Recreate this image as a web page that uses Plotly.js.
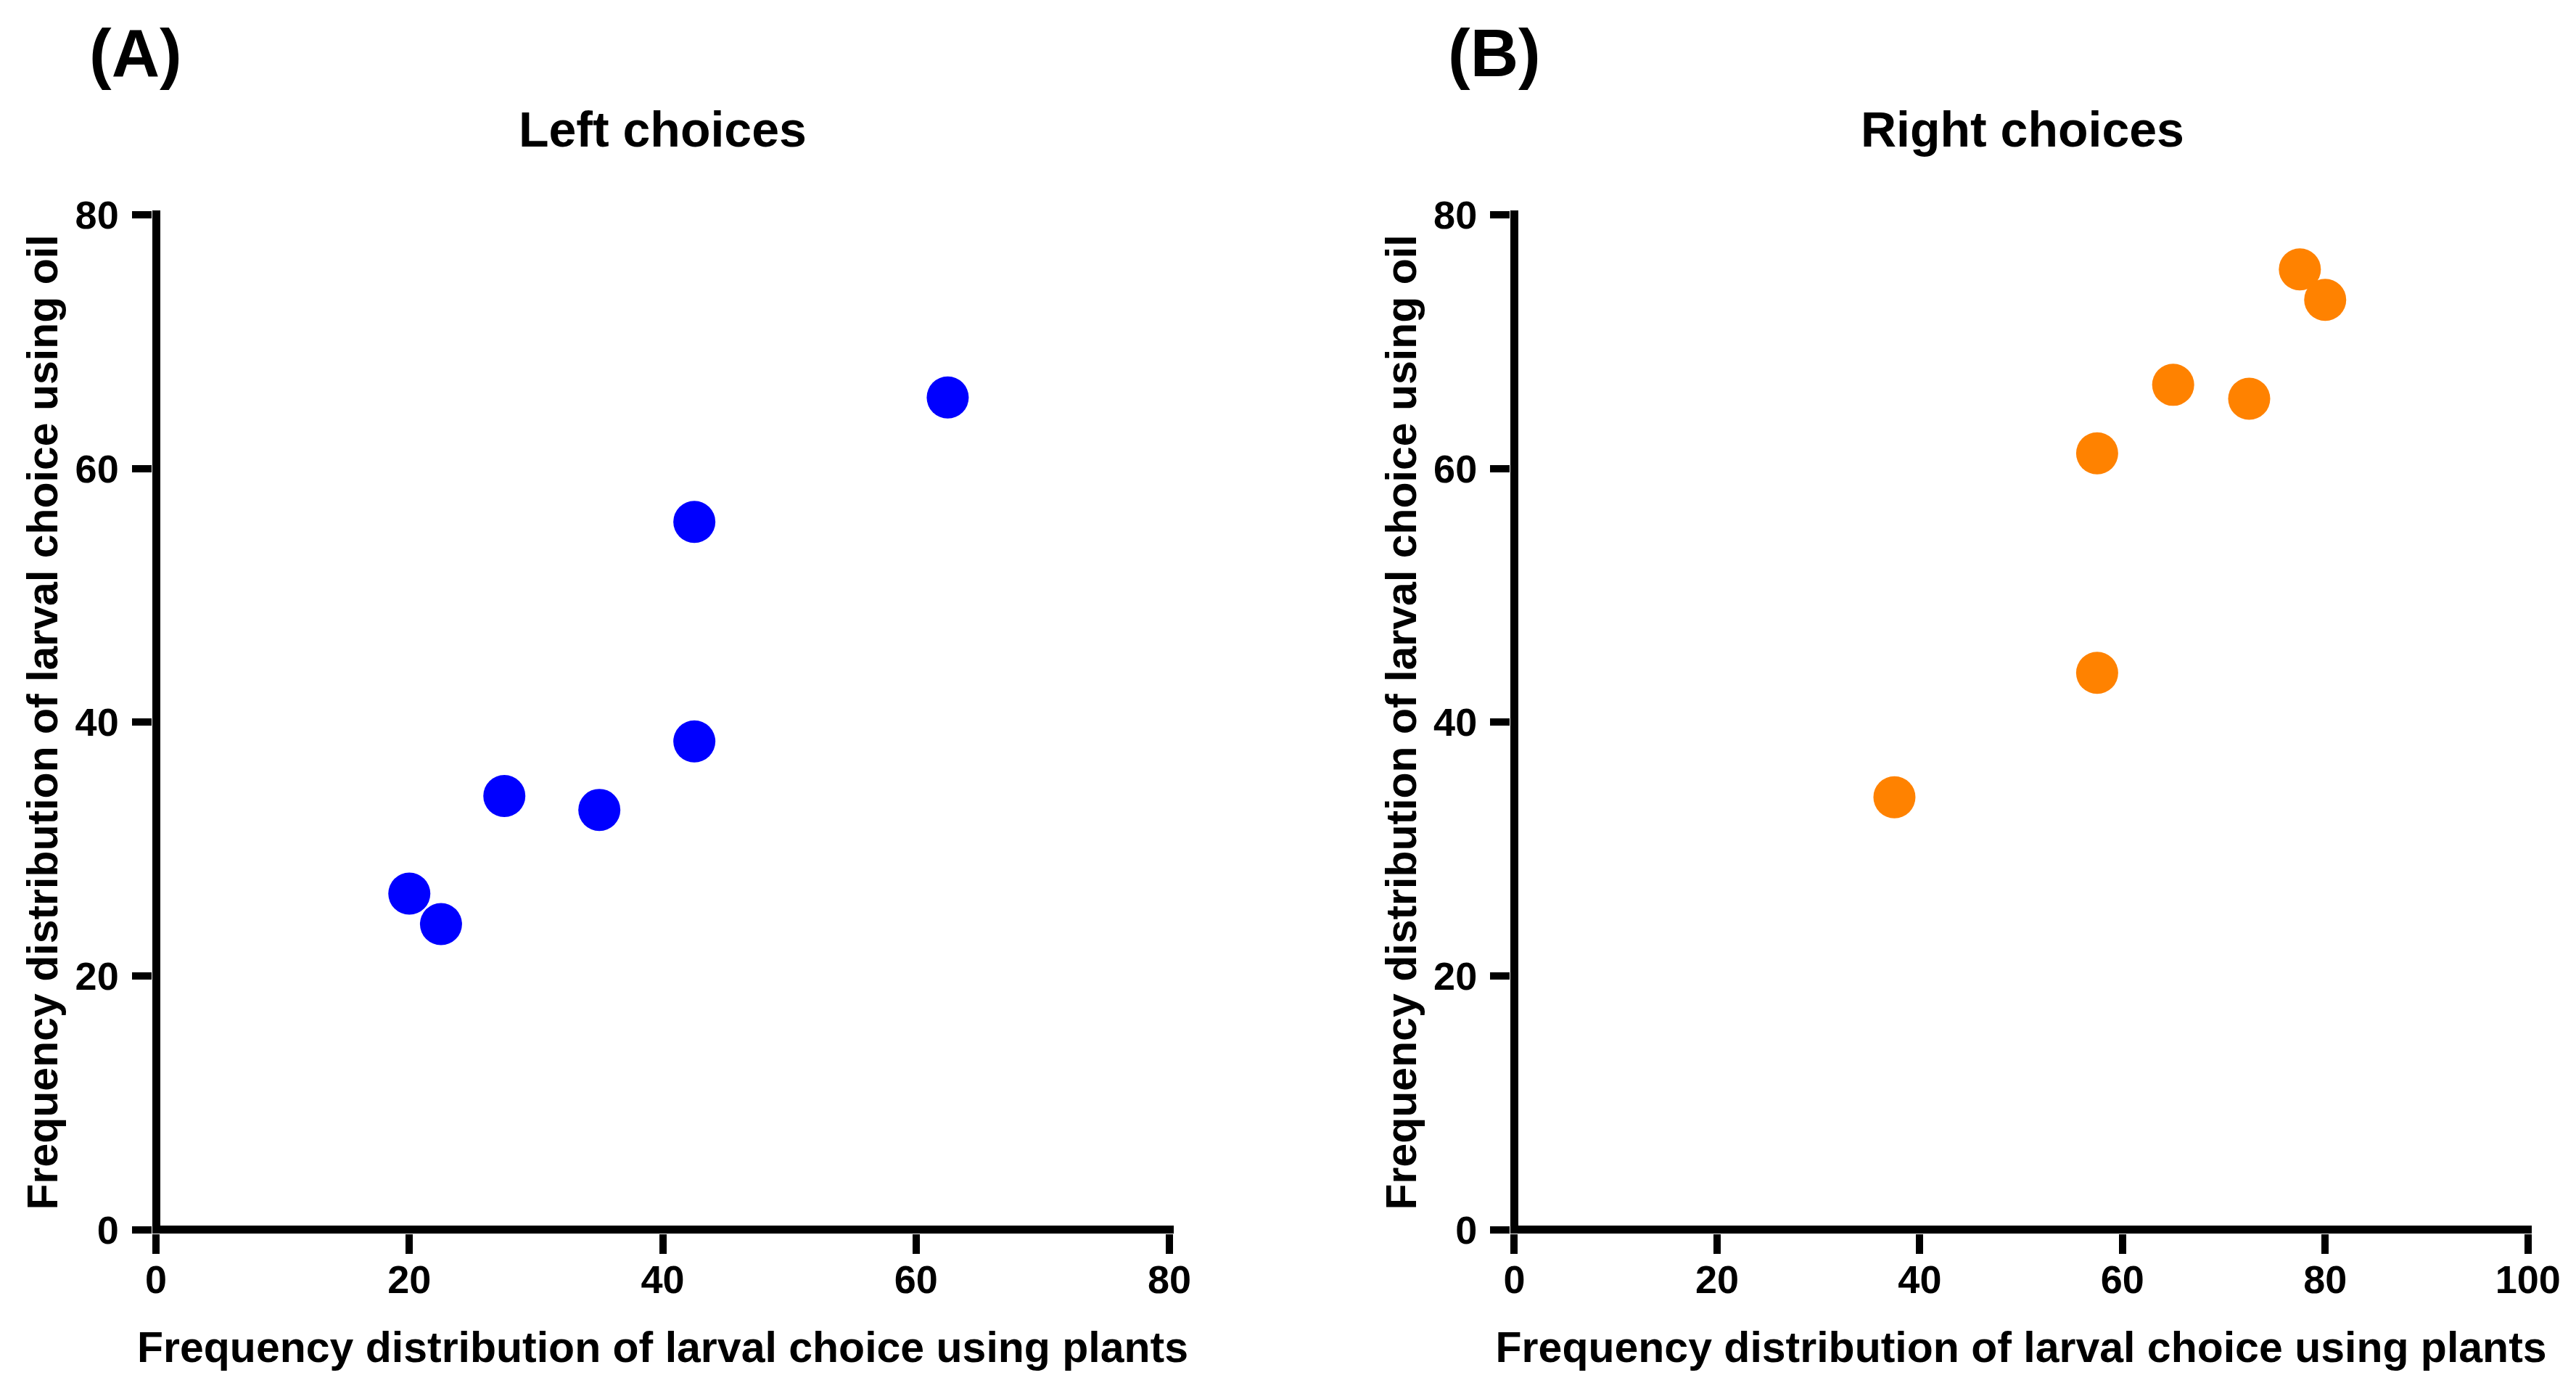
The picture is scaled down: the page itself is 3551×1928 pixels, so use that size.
<!DOCTYPE html>
<html>
<head>
<meta charset="utf-8">
<script src="https://cdn.plot.ly/plotly-3.0.1.min.js"></script>
<style>
html,body{margin:0;padding:0;background:#fff;}
#chart{width:3551px;height:1928px;}
</style>
</head>
<body>
<div id="chart"></div>
<script>
// Data
const leftPlants = [20, 22.5, 27.5, 35, 42.5, 42.5, 62.5];
const leftOil = [26.5, 24.1, 34.2, 33.1, 38.5, 55.8, 65.6];
const rightPlants = [37.5, 57.5, 57.5, 65, 72.5, 77.5, 80];
const rightOil = [34.1, 43.9, 61.2, 66.6, 65.5, 75.7, 73.3];
const panelLabels = ["(A)", "(B)"];
const panelTitles = ["Left choices", "Right choices"];
const xTitle = "Frequency distribution of larval choice using plants";
const yTitle = "Frequency distribution of larval choice using oil";
const xTicksLeft = [0, 20, 40, 60, 80];
const xTicksRight = [0, 20, 40, 60, 80, 100];
const yTicks = [0, 20, 40, 60, 80];

const FONT = "Liberation Sans, Arial, Helvetica, sans-serif";

const traces = [
  {x: leftPlants, y: leftOil, type: 'scatter', mode: 'markers', xaxis: 'x', yaxis: 'y',
   marker: {color: '#0000FF', size: 58, line: {width: 0}}, showlegend: false, cliponaxis: false},
  {x: rightPlants, y: rightOil, type: 'scatter', mode: 'markers', xaxis: 'x2', yaxis: 'y2',
   marker: {color: '#FF8200', size: 58, line: {width: 0}}, showlegend: false, cliponaxis: false}
];

// axis lines are drawn as zero lines so they sit centred on the 0 ticks
function axisBase() {
  return {
    showline: false,
    zeroline: true, zerolinecolor: '#000', zerolinewidth: 11,
    ticks: 'outside', ticklen: 27, tickwidth: 10, tickcolor: '#000',
    showgrid: false, fixedrange: true,
    tickfont: {family: FONT, size: 54, color: '#000', weight: 'bold'},
    tickmode: 'array'
  };
}

const yDom = [0.117998, 0.849326];
const titleFont = {family: FONT, size: 59, color: '#000', weight: 'bold'};

const layout = {
  width: 3551, height: 1928,
  margin: {l: 150, r: 0, t: 0, b: 0},
  paper_bgcolor: '#fff', plot_bgcolor: '#fff',
  showlegend: false,
  xaxis: Object.assign(axisBase(), {
    domain: [0.017495, 0.431491], range: [-0.315, 80.315], anchor: 'y',
    tickvals: xTicksLeft, ticktext: xTicksLeft.map(String), ticklabelstandoff: -11,
    title: {text: xTitle, font: titleFont, standoff: 43}
  }),
  yaxis: Object.assign(axisBase(), {
    domain: yDom, range: [-0.315, 80.315], anchor: 'x',
    tickvals: yTicks, ticktext: yTicks.map(String), ticklabelstandoff: 7,
    title: {text: yTitle, font: titleFont, standoff: 4}
  }),
  xaxis2: Object.assign(axisBase(), {
    domain: [0.568068, 0.982123], range: [-0.394, 100.394], anchor: 'y2',
    tickvals: xTicksRight, ticktext: xTicksRight.map(String), ticklabelstandoff: -11,
    title: {text: xTitle, font: titleFont, standoff: 43}
  }),
  yaxis2: Object.assign(axisBase(), {
    domain: yDom, range: [-0.315, 80.315], anchor: 'x2',
    tickvals: yTicks, ticktext: yTicks.map(String), ticklabelstandoff: 7,
    title: {text: yTitle, font: titleFont, standoff: 4}
  }),
  annotations: [
    {text: panelLabels[0], xref: 'paper', yref: 'paper', x: 0.010879, y: 0.9621, xanchor: 'center', yanchor: 'middle',
     showarrow: false, font: {family: FONT, size: 92, color: '#000', weight: 'bold'}},
    {text: panelLabels[1], xref: 'paper', yref: 'paper', x: 0.561599, y: 0.9621, xanchor: 'center', yanchor: 'middle',
     showarrow: false, font: {family: FONT, size: 92, color: '#000', weight: 'bold'}},
    {text: panelTitles[0], xref: 'paper', yref: 'paper', x: 0.224346, y: 0.9079, xanchor: 'center', yanchor: 'middle',
     showarrow: false, font: {family: FONT, size: 68, color: '#000', weight: 'bold'}},
    {text: panelTitles[1], xref: 'paper', yref: 'paper', x: 0.775654, y: 0.9079, xanchor: 'center', yanchor: 'middle',
     showarrow: false, font: {family: FONT, size: 68, color: '#000', weight: 'bold'}}
  ]
};

Plotly.newPlot('chart', traces, layout, {displayModeBar: false, staticPlot: true});
</script>
</body>
</html>
